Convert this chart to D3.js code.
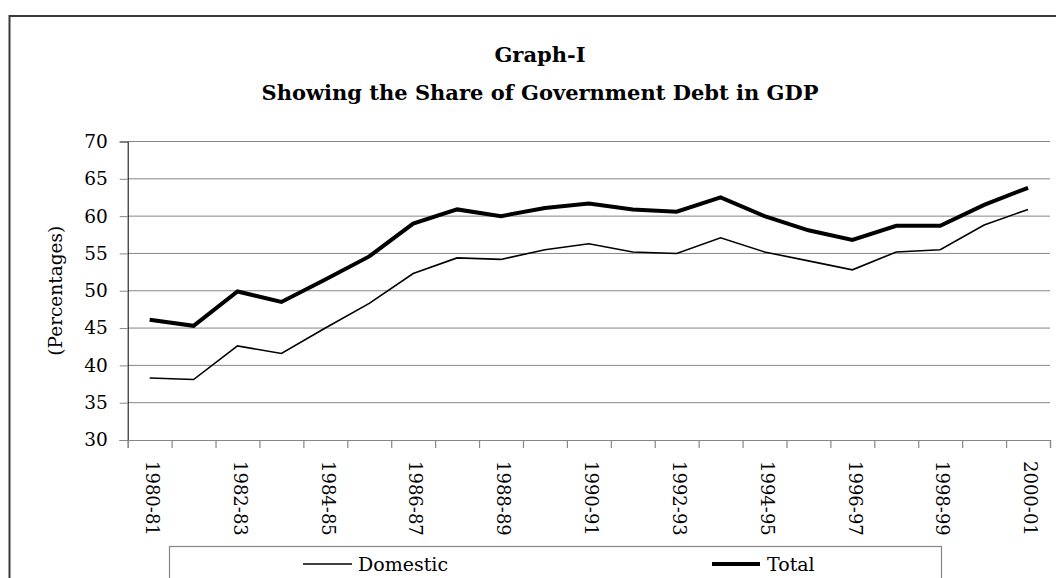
<!DOCTYPE html>
<html>
<head>
<meta charset="utf-8">
<script src="https://cdn.jsdelivr.net/npm/d3@7/dist/d3.min.js"></script>
<style>
  html, body { margin: 0; padding: 0; background: #fff; }
  svg { display: block; }
  text { font-family: "DejaVu Serif", "Liberation Serif", serif; fill: #000; }
</style>
</head>
<body>
<svg id="chart" width="1056" height="578"></svg>
<script>
// Fiscal years on the category axis
const categories = [
  "1980-81", "1981-82", "1982-83", "1983-84", "1984-85", "1985-86", "1986-87",
  "1987-88", "1988-89", "1989-90", "1990-91", "1991-92", "1992-93", "1993-94",
  "1994-95", "1995-96", "1996-97", "1997-98", "1998-99", "1999-2000", "2000-01"
];

// Debt as a share of GDP (per cent)
const domestic = [38.3, 38.1, 42.6, 41.6, 45.0, 48.3, 52.3, 54.4, 54.2, 55.5, 56.3,
                  55.2, 55.0, 57.1, 55.2, 54.0, 52.8, 55.2, 55.5, 58.8, 60.9];
const total    = [46.1, 45.3, 49.9, 48.5, 51.5, 54.6, 59.0, 60.9, 60.0, 61.1, 61.7,
                  60.9, 60.6, 62.5, 60.0, 58.1, 56.8, 58.7, 58.7, 61.5, 63.8];

// Every second year carries a label
const tickLabels = categories.filter((d, i) => i % 2 === 0);
const yTicks = [30, 35, 40, 45, 50, 55, 60, 65, 70];

const titleLines = ["Graph-I", "Showing the Share of Government Debt in GDP"];
const yAxisTitle = "(Percentages)";
const seriesNames = ["Domestic", "Total"];

const svg = d3.select("#chart");

const plot = { left: 127.7, right: 1050, top: 141.5, bottom: 440 };

const x = d3.scaleBand().domain(categories).range([plot.left, plot.right]).paddingInner(0).paddingOuter(0);
const xEdge = d3.scaleLinear().domain([0, categories.length]).range([plot.left, plot.right]);
const y = d3.scaleLinear().domain([30, 70]).range([plot.bottom, plot.top]);

// Outer frame
svg.append("path")
  .attr("d", `M9.5,${578 + 5} V16 H${1056 + 5}`)
  .attr("fill", "none")
  .attr("stroke", "#3a3a3a")
  .attr("stroke-width", 2);

// Titles
svg.append("text")
  .attr("x", 540).attr("y", 62)
  .attr("text-anchor", "middle")
  .style("font-size", "21px").style("font-weight", "bold")
  .text(titleLines[0]);
svg.append("text")
  .attr("x", 540).attr("y", 100)
  .attr("text-anchor", "middle")
  .style("font-size", "21px").style("font-weight", "bold")
  .text(titleLines[1]);

// Horizontal gridlines
svg.append("g")
  .selectAll("line")
  .data(yTicks.filter(d => d > 30))
  .join("line")
  .attr("x1", plot.left).attr("x2", plot.right)
  .attr("y1", d => y(d)).attr("y2", d => y(d))
  .attr("stroke", "#868686").attr("stroke-width", 1);

// Y axis
const yAxis = svg.append("g")
  .attr("transform", `translate(${plot.left},0)`)
  .call(d3.axisLeft(y).tickValues(yTicks).tickSize(8).tickPadding(12).tickFormat(d3.format("d")));
yAxis.select(".domain").attr("stroke", "#000").attr("stroke-width", 1);
yAxis.selectAll(".tick line").attr("stroke", "#868686");
yAxis.selectAll("text")
  .style("font-size", "18.5px")
  .style("font-family", "DejaVu Serif, serif")
  .attr("fill", "#000");

// X axis: tick marks at category boundaries
const xAxis = svg.append("g")
  .attr("transform", `translate(0,${plot.bottom})`)
  .call(d3.axisBottom(xEdge).tickValues(d3.range(categories.length + 1)).tickSize(8).tickFormat(""));
xAxis.select(".domain").attr("stroke", "#868686").attr("stroke-width", 1.2);
xAxis.selectAll(".tick line").attr("stroke", "#868686").attr("stroke-width", 1.2);

// X axis labels, rotated to read downward
const xLabels = svg.append("g")
  .attr("transform", `translate(0,${plot.bottom})`)
  .call(d3.axisBottom(x).tickValues(tickLabels).tickSize(0));
xLabels.select(".domain").remove();
xLabels.selectAll("text")
  .attr("transform", "rotate(90)")
  .attr("x", 21).attr("y", -2.5).attr("dy", "0.35em")
  .style("text-anchor", "start")
  .style("font-size", "18px")
  .style("font-family", "DejaVu Serif, serif")
  .attr("fill", "#000");

// Y axis title
svg.append("text")
  .attr("transform", `translate(62,${(plot.top + plot.bottom) / 2}) rotate(-90)`)
  .attr("text-anchor", "middle")
  .style("font-size", "18.5px")
  .text(yAxisTitle);

// Lines
const line = d3.line()
  .x((d, i) => x(categories[i]) + x.bandwidth() / 2)
  .y(d => y(d));

svg.append("path")
  .datum(domestic)
  .attr("fill", "none").attr("stroke", "#000").attr("stroke-width", 1.6)
  .attr("d", line);

svg.append("path")
  .datum(total)
  .attr("fill", "none").attr("stroke", "#000").attr("stroke-width", 4)
  .attr("d", line);

// Legend
const legend = svg.append("g");
legend.append("rect")
  .attr("x", 169.5).attr("y", 546.5)
  .attr("width", 772).attr("height", 60)
  .attr("fill", "#fff").attr("stroke", "#868686").attr("stroke-width", 1.2);

const legendItems = [
  { name: seriesNames[0], x1: 303, x2: 352, w: 1.6, tx: 358 },
  { name: seriesNames[1], x1: 712, x2: 760, w: 4, tx: 767 }
];
legendItems.forEach(it => {
  legend.append("line")
    .attr("x1", it.x1).attr("x2", it.x2)
    .attr("y1", 564).attr("y2", 564)
    .attr("stroke", "#000").attr("stroke-width", it.w);
  legend.append("text")
    .attr("x", it.tx).attr("y", 570.5)
    .style("font-size", "19px")
    .text(it.name);
});
</script>
</body>
</html>
